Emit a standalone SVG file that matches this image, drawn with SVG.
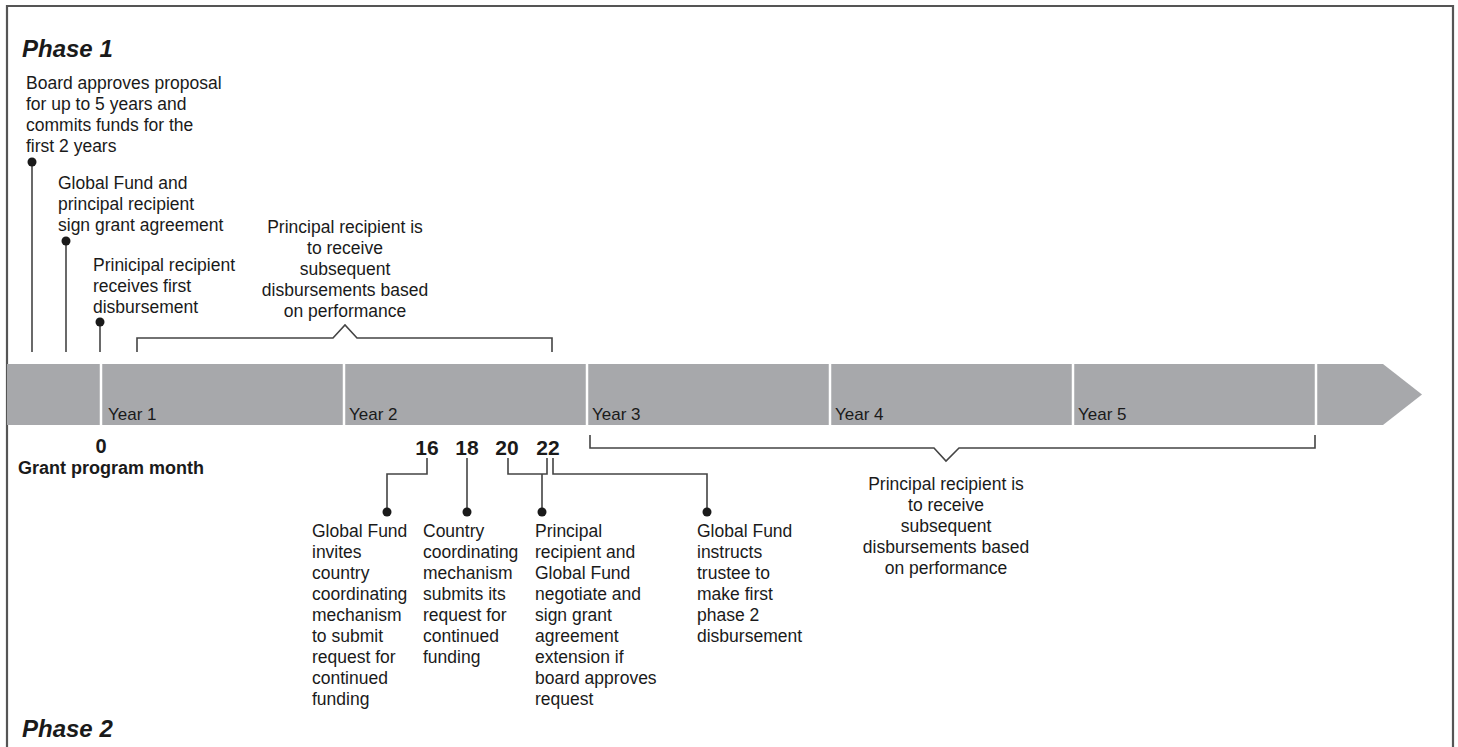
<svg xmlns="http://www.w3.org/2000/svg" width="1458" height="747" viewBox="0 0 1458 747">
<style>
text{font-family:"Liberation Sans",Arial,sans-serif;fill:#1a1a1a}
.t{font-size:17.5px}
.yr{font-size:17px}
.num{font-size:21px;font-weight:bold}
.ph{font-size:24px;font-weight:bold;font-style:italic}
.lbl{font-size:18px;font-weight:bold}
.c{text-anchor:middle}
.ln{fill:none;stroke:#444;stroke-width:1.6}
.dot{fill:#1a1a1a}
.div{stroke:#fff;stroke-width:2.5}
</style>
<rect width="1458" height="747" fill="#fff"/>
<path d="M7,747 V6 H1453 V747" fill="none" stroke="#555" stroke-width="2.2"/>

<g id="timeline">
<polygon points="7,364 1383,364 1422,394.5 1383,425 7,425" fill="#a7a8ab"/>
<line class="div" x1="101" y1="364" x2="101" y2="425"/>
<line class="div" x1="344" y1="364" x2="344" y2="425"/>
<line class="div" x1="587" y1="364" x2="587" y2="425"/>
<line class="div" x1="830" y1="364" x2="830" y2="425"/>
<line class="div" x1="1073" y1="364" x2="1073" y2="425"/>
<line class="div" x1="1316" y1="364" x2="1316" y2="425"/>
<text class="yr" x="108" y="420">Year 1</text>
<text class="yr" x="349" y="420">Year 2</text>
<text class="yr" x="592" y="420">Year 3</text>
<text class="yr" x="835" y="420">Year 4</text>
<text class="yr" x="1078" y="420">Year 5</text>
</g>

<g id="phase-labels">
<text class="ph" x="22" y="57">Phase 1</text>
<text class="ph" x="22" y="737">Phase 2</text>
</g>

<g id="months">
<text class="c" x="101" y="453" style="font-size:20px;font-weight:bold">0</text>
<text class="lbl" x="18" y="474">Grant program month</text>
<text class="num c" x="427" y="455">16</text>
<text class="num c" x="467" y="455">18</text>
<text class="num c" x="507" y="455">20</text>
<text class="num c" x="548" y="455">22</text>
</g>

<g id="connectors">
<path class="ln" d="M32,162 V352"/>
<path class="ln" d="M66,241 V352"/>
<path class="ln" d="M100,322 V352"/>
<path class="ln" d="M137,352 V338 H333 L345,325 L357,338 H552 V352"/>
<path class="ln" d="M590,435 V448 H934 L946,461 L959,448 H1315 V435"/>
<path class="ln" d="M427,458 V474 H387 V512"/>
<path class="ln" d="M467,458 V512"/>
<path class="ln" d="M508,458 V474 H547 V458 M542,474 V512"/>
<path class="ln" d="M553,458 V474 H707 V512"/>
<circle class="dot" cx="32" cy="162" r="4.5"/>
<circle class="dot" cx="66" cy="241" r="4.5"/>
<circle class="dot" cx="100" cy="322" r="4.5"/>
<circle class="dot" cx="387" cy="512" r="4.5"/>
<circle class="dot" cx="467" cy="512" r="4.5"/>
<circle class="dot" cx="542" cy="512" r="4.5"/>
<circle class="dot" cx="707" cy="512" r="4.5"/>
</g>

<g id="board-approves">
<text class="t" x="26" y="89">Board approves proposal</text>
<text class="t" x="26" y="110">for up to 5 years and</text>
<text class="t" x="26" y="131">commits funds for the</text>
<text class="t" x="26" y="152">first 2 years</text>
</g>

<g id="sign-agreement">
<text class="t" x="58" y="189">Global Fund and</text>
<text class="t" x="58" y="210">principal recipient</text>
<text class="t" x="58" y="231">sign grant agreement</text>
</g>

<g id="first-disbursement">
<text class="t" x="93" y="271">Prinicipal recipient</text>
<text class="t" x="93" y="292">receives first</text>
<text class="t" x="93" y="313">disbursement</text>
</g>

<g id="subsequent-1">
<text class="t c" x="345" y="233">Principal recipient is</text>
<text class="t c" x="345" y="254">to receive</text>
<text class="t c" x="345" y="275">subsequent</text>
<text class="t c" x="345" y="296">disbursements based</text>
<text class="t c" x="345" y="317">on performance</text>
</g>

<g id="subsequent-2">
<text class="t c" x="946" y="490">Principal recipient is</text>
<text class="t c" x="946" y="511">to receive</text>
<text class="t c" x="946" y="532">subsequent</text>
<text class="t c" x="946" y="553">disbursements based</text>
<text class="t c" x="946" y="574">on performance</text>
</g>

<g id="invites">
<text class="t" x="312" y="537">Global Fund</text>
<text class="t" x="312" y="558">invites</text>
<text class="t" x="312" y="579">country</text>
<text class="t" x="312" y="600">coordinating</text>
<text class="t" x="312" y="621">mechanism</text>
<text class="t" x="312" y="642">to submit</text>
<text class="t" x="312" y="663">request for</text>
<text class="t" x="312" y="684">continued</text>
<text class="t" x="312" y="705">funding</text>
</g>

<g id="submits">
<text class="t" x="423" y="537">Country</text>
<text class="t" x="423" y="558">coordinating</text>
<text class="t" x="423" y="579">mechanism</text>
<text class="t" x="423" y="600">submits its</text>
<text class="t" x="423" y="621">request for</text>
<text class="t" x="423" y="642">continued</text>
<text class="t" x="423" y="663">funding</text>
</g>

<g id="negotiate">
<text class="t" x="535" y="537">Principal</text>
<text class="t" x="535" y="558">recipient and</text>
<text class="t" x="535" y="579">Global Fund</text>
<text class="t" x="535" y="600">negotiate and</text>
<text class="t" x="535" y="621">sign grant</text>
<text class="t" x="535" y="642">agreement</text>
<text class="t" x="535" y="663">extension if</text>
<text class="t" x="535" y="684">board approves</text>
<text class="t" x="535" y="705">request</text>
</g>

<g id="instructs">
<text class="t" x="697" y="537">Global Fund</text>
<text class="t" x="697" y="558">instructs</text>
<text class="t" x="697" y="579">trustee to</text>
<text class="t" x="697" y="600">make first</text>
<text class="t" x="697" y="621">phase 2</text>
<text class="t" x="697" y="642">disbursement</text>
</g>
</svg>
